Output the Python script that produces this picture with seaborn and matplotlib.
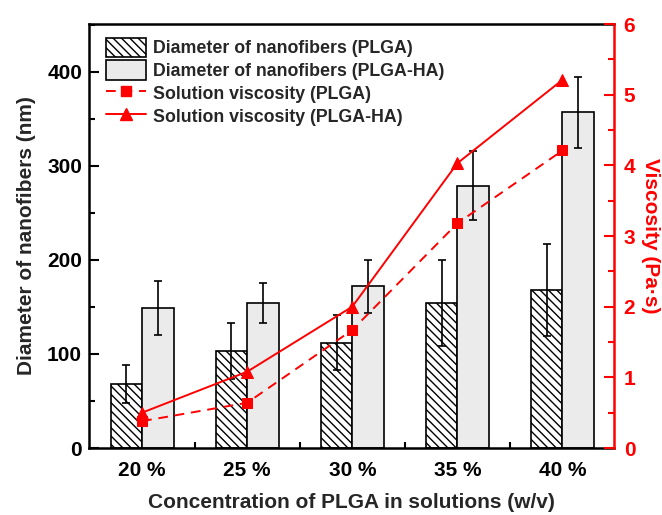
import matplotlib
matplotlib.use("Agg")
import matplotlib.pyplot as plt
from matplotlib.patches import Patch
from matplotlib.lines import Line2D
from matplotlib.ticker import MultipleLocator
import numpy as np
import pandas as pd
import seaborn as sns

# Fibre diameters (nm) with standard deviations, and solution viscosity (Pa·s)
concentrations = ["20 %", "25 %", "30 %", "35 %", "40 %"]
diam_plga = [68, 103, 112, 154, 168]
diam_plga_sd = [20, 30, 29, 46, 49]
diam_plga_ha = [149, 154, 172, 279, 357]
diam_plga_ha_sd = [29, 21, 28, 37, 38]
visc_plga = [0.38, 0.64, 1.67, 3.18, 4.21]
visc_plga_ha = [0.50, 1.08, 2.00, 4.03, 5.21]
groups = ["PLGA", "PLGA-HA"]

sns.set_theme(style="white")
plt.rcParams["font.family"] = ["Liberation Sans", "DejaVu Sans"]
plt.rcParams["font.weight"] = "bold"
plt.rcParams["hatch.linewidth"] = 1.0

red = "#ff0000"
gray_fill = "#ebebeb"

df = pd.DataFrame({
    "conc": concentrations * 2,
    "diameter": diam_plga + diam_plga_ha,
    "sd": diam_plga_sd + diam_plga_ha_sd,
    "group": [groups[0]] * 5 + [groups[1]] * 5,
})

fig = plt.figure(figsize=(6.62, 5.15), dpi=100)
ax = fig.add_axes([89 / 662, 1 - 448 / 515, (614 - 89) / 662, (448 - 24) / 515])

sns.barplot(data=df, x="conc", y="diameter", hue="group", order=concentrations,
            hue_order=groups, palette={groups[0]: "white", groups[1]: gray_fill},
            width=0.6, gap=0, errorbar=None, edgecolor="black", linewidth=1.2,
            legend=False, ax=ax, zorder=2)

# hatch the plain PLGA bars and add the standard-deviation bars
for k, (container, sds) in enumerate(zip(ax.containers, [diam_plga_sd, diam_plga_ha_sd])):
    xs, ys = [], []
    for bar in container:
        xs.append(bar.get_x() + bar.get_width() / 2)
        ys.append(bar.get_height())
        if k == 0:
            bar.set_hatch("\\\\\\\\")
    ax.errorbar(xs, ys, yerr=sds, fmt="none", ecolor="black", elinewidth=1.2,
                capsize=3.2, capthick=1.2, zorder=3)

ax.set_xlim(-0.505, 4.49)
ax.set_ylim(0, 451)
ax.yaxis.set_major_locator(MultipleLocator(100))
ax.yaxis.set_minor_locator(MultipleLocator(50))
ax.set_xticks(range(len(concentrations)))
ax.set_xticks(np.arange(0.5, 4.5, 1.0), minor=True)
ax.set_xticklabels(concentrations)
ax.tick_params(axis="both", which="both", direction="in", width=1.5, colors="black",
               labelsize=15)
ax.tick_params(axis="both", which="major", length=7)
ax.tick_params(axis="both", which="minor", length=4)
ax.tick_params(axis="y", which="both", left=True, right=False, pad=5)
ax.tick_params(axis="x", which="both", bottom=True, top=False, pad=9)
for lab in ax.get_xticklabels() + ax.get_yticklabels():
    lab.set_fontweight("bold")
ax.set_xlabel("Concentration of PLGA in solutions (w/v)", fontsize=15,
              fontweight="bold", labelpad=10)
ax.set_ylabel("Diameter of nanofibers (nm)", fontsize=15, fontweight="bold",
              labelpad=8)
for side in ["left", "bottom", "top"]:
    ax.spines[side].set_linewidth(1.8)
    ax.spines[side].set_color("black")
ax.spines["right"].set_visible(False)

# viscosity on the secondary axis
ax2 = ax.twinx()
pos = list(range(len(concentrations)))
sns.lineplot(x=pos, y=visc_plga, ax=ax2, color=red, marker="s", markersize=7,
             markeredgecolor=red, linewidth=1.4, linestyle=(0, (5, 3.5)))
sns.lineplot(x=pos, y=visc_plga_ha, ax=ax2, color=red, marker="^", markersize=9,
             markeredgecolor=red, linewidth=1.4)
ax2.set_ylim(0, 6)
ax2.yaxis.set_major_locator(MultipleLocator(1))
ax2.yaxis.set_minor_locator(MultipleLocator(0.5))
ax2.tick_params(axis="y", which="both", direction="in", colors=red, width=1.5,
                labelsize=15, pad=7, left=False, right=True)
ax2.tick_params(axis="y", which="major", length=7)
ax2.tick_params(axis="y", which="minor", length=4)
for lab in ax2.get_yticklabels():
    lab.set_fontweight("bold")
ax2.set_ylabel("Viscosity (Pa·s)", fontsize=15, fontweight="bold", color=red,
               rotation=270, labelpad=18)
for side in ["left", "top", "bottom"]:
    ax2.spines[side].set_visible(False)
ax2.spines["right"].set_color(red)
ax2.spines["right"].set_linewidth(1.8)

handles = [
    Patch(facecolor="white", edgecolor="black", hatch="\\\\\\\\", linewidth=1.2),
    Patch(facecolor=gray_fill, edgecolor="black", linewidth=1.2),
    Line2D([], [], color=red, marker="s", markersize=7, linewidth=1.4,
           linestyle=(0, (5, 3.5))),
    Line2D([], [], color=red, marker="^", markersize=9, linewidth=1.4),
]
labels = ["Diameter of nanofibers (PLGA)", "Diameter of nanofibers (PLGA-HA)",
          "Solution viscosity (PLGA)", "Solution viscosity (PLGA-HA)"]
ax2.legend(handles, labels, loc="upper left", bbox_to_anchor=(17 / 525, 0.968),
           frameon=False, prop={"weight": "bold", "size": 12.8},
           handlelength=2.25, handleheight=1.3, handletextpad=0.4,
           labelspacing=0.18, borderaxespad=0, borderpad=0)

fig.savefig("out.png", dpi=100, facecolor="white")
